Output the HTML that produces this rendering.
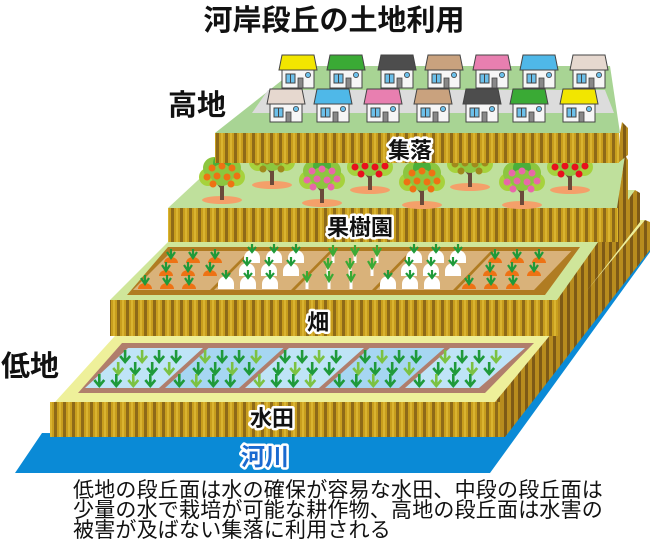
<!DOCTYPE html>
<html><head><meta charset="utf-8">
<style>
html,body{margin:0;padding:0;background:#fff;}
body{width:650px;height:545px;overflow:hidden;position:relative;font-family:"Liberation Sans","Noto Sans CJK JP",sans-serif;}
svg{position:absolute;left:0;top:0;}
.lab{font-family:"Liberation Sans","Noto Sans CJK JP",sans-serif;font-weight:bold;paint-order:stroke;stroke:#fff;stroke-width:5px;stroke-linejoin:round;fill:#111;}
.cap{position:absolute;left:73px;top:481px;font-size:21px;line-height:20px;color:#111;white-space:nowrap;letter-spacing:0.2px;font-family:"Liberation Sans","Noto Sans CJK JP",sans-serif;}
</style></head><body>
<svg width="650" height="545" viewBox="0 0 650 545" xmlns="http://www.w3.org/2000/svg">
<defs>
<pattern id="st" patternUnits="userSpaceOnUse" width="9" height="20">
<rect width="9" height="20" fill="#c89e1e"/>
<rect x="0" width="3" height="20" fill="#8e6a18"/>
<rect x="5" width="2" height="20" fill="#dab430"/>
</pattern>
<pattern id="sts" patternUnits="userSpaceOnUse" width="7" height="20">
<rect width="7" height="20" fill="#b88c1e"/>
<rect x="0" width="3" height="20" fill="#7e5a16"/>
</pattern>
<g id="rd"><path d="M-5,-6 L0,0 L5,-6 M0,0 L0,-12" stroke="#1f9a3a" stroke-width="2.6" fill="none"/></g>
<g id="rl"><path d="M-5,-6 L0,0 L5,-6 M0,0 L0,-12" stroke="#7cc242" stroke-width="2.6" fill="none"/></g>
<g id="ca"><path d="M-7,0 A7,6 0 0 1 7,0 Z" fill="#ee7214"/><path d="M-4,-11 L0,-5 L4,-11 M0,-5 L0,-14" stroke="#1f9a3a" stroke-width="2.2" fill="none"/></g>
<g id="tu"><path d="M-8,0 L-8,-5 A8,8 0 0 1 8,-5 L8,0 Z" fill="#fff"/><path d="M-4,-16 L0,-11 L4,-16 M0,-11 L0,-19" stroke="#1f9a3a" stroke-width="2.2" fill="none"/></g>
<g id="le"><path d="M0,0 L0,-8" stroke="#fff" stroke-width="3"/><path d="M-4,-15 L0,-8 L4,-15 M0,-8 L0,-18" stroke="#3aaa35" stroke-width="2.2" fill="none"/></g>
<g id="tree">
<ellipse cx="0" cy="25" rx="20" ry="4" fill="#f4a06a"/>
<path d="M0,25 L0,6 M0,12 L-7,4 M0,10 L7,3" stroke="#6b4a3a" stroke-width="4" fill="none"/>
<circle cx="-14" cy="2" r="9" fill="#a6d23c"/><circle cx="14" cy="2" r="9" fill="#a6d23c"/>
<circle cx="-8" cy="-7" r="11" fill="#8cc63f"/><circle cx="8" cy="-7" r="11" fill="#8cc63f"/>
<circle cx="0" cy="-12" r="9" fill="#4aae3a"/><circle cx="0" cy="0" r="11" fill="#8cc63f"/>
</g>
</defs>

<text x="334" y="30" text-anchor="middle" font-size="29" font-weight="bold" fill="#111" font-family="Liberation Sans, Noto Sans CJK JP, sans-serif">河岸段丘の土地利用</text>

<polygon points="15,473 490,473 650,252 650,235 500,437 42,433" fill="#0a8ad6"/>

<polygon points="55,402 495,402 645,220 220,220" fill="#eef09a"/>
<polygon points="495,402 645,220 650,222 650,250 505,437 495,437" fill="url(#sts)"/>
<rect x="50" y="402" width="450" height="35" fill="url(#st)"/>
<polygon points="78,393 485,393 534,343 122,343" fill="#b07e6c"/>
<g id="paddies"></g>

<polygon points="110,300 557,300 635,190 220,190" fill="#cfe69a"/>
<polygon points="557,300 635,190 640,193 640,222 552,336 550,336" fill="url(#sts)"/>
<rect x="110" y="300" width="448" height="36" fill="url(#st)"/>
<polygon points="127,295 545,295 580,247 168,247" fill="#b07c22"/>
<g id="fields"></g>

<polygon points="168,208 617,208 625,155 225,155" fill="#bfe09c"/>
<polygon points="617,208 625,155 628,160 628,215 617,242" fill="url(#sts)"/>
<rect x="168" y="208" width="450" height="34" fill="url(#st)"/>
<g id="trees"></g>

<polygon points="215,133 620,133 610,66 300,66" fill="#a8d494"/>
<polygon points="620,133 622,122 628,128 628,155 618,163" fill="url(#sts)"/>
<rect x="215" y="133" width="404" height="30" fill="url(#st)"/>
<polygon points="252,113 614,113 605,90 268,90" fill="#dcdcdc"/>
<g id="houses"></g>

<text class="lab" x="410" y="158" text-anchor="middle" font-size="22">集落</text>
<text class="lab" x="360" y="235" text-anchor="middle" font-size="22">果樹園</text>
<text class="lab" x="318" y="330" text-anchor="middle" font-size="22">畑</text>
<text class="lab" x="272" y="426" text-anchor="middle" font-size="22">水田</text>
<text class="lab" x="265" y="465" text-anchor="middle" font-size="24" style="fill:#1a6ad0">河川</text>
<text x="168" y="115" font-size="29" font-weight="bold" fill="#111" font-family="Liberation Sans, Noto Sans CJK JP, sans-serif">高地</text>
<text x="1" y="376" font-size="29" font-weight="bold" fill="#111" font-family="Liberation Sans, Noto Sans CJK JP, sans-serif">低地</text>
</svg>
<div class="cap">低地の段丘面は水の確保が容易な水田、中段の段丘面は<br>少量の水で栽培が可能な耕作物、高地の段丘面は水害の<br>被害が及ばない集落に利用される</div>
<script>
(function(){
var NS="http://www.w3.org/2000/svg";
function el(p,tag,a){var e=document.createElementNS(NS,tag);for(var k in a)e.setAttribute(k,a[k]);p.appendChild(e);return e;}
function use(p,id,x,y){var u=el(p,"use",{x:x,y:y});u.setAttributeNS("http://www.w3.org/1999/xlink","href","#"+id);u.setAttribute("href","#"+id);return u;}
var pg=document.getElementById("paddies");
for(var i=0;i<5;i++){
 var bx=85+i*80, tx=128+i*80.5;
 el(pg,"polygon",{points:bx+",388 "+(bx+74)+",388 "+(tx+75)+",348 "+tx+",348",fill:(i%2?"#a6d6f2":"#bfe4f7")});
 var rows=[360,372,384];
 for(var r=0;r<3;r++){
  var y=rows[r], sh=(388-y)*(43/40);
  for(var j=0;j<4;j++){
   var x=bx+sh+10+j*17+(r%2?6:0);
   if(x>bx+sh+70)continue;
   use(pg,((i+j+r)%3==1)?"rl":"rd",x,y+2);
  }
 }
}
var fg=document.getElementById("fields");
var kinds=["ca","tu","le","tu","ca"];
for(var i=0;i<5;i++){
 var bx=133+i*81, tx=172+i*80.6;
 el(fg,"polygon",{points:bx+",290 "+(bx+77)+",290 "+(tx+77)+",251 "+tx+",251",fill:"#d9b27a"});
 var rowsY=[264,277,290];
 for(var r=0;r<3;r++){
  var y=rowsY[r], sh=(290-y);
  for(var j=0;j<3;j++){
   var x=bx+sh+12+j*22+(r==1?8:0);
   if(x>bx+sh+72)continue;
   use(fg,kinds[i],x,y-1);
  }
 }
}
var tg=document.getElementById("trees");
var trees=[[272,160,"#a08a1c"],[370,165,"#e8101e"],[470,162,"#a08a1c"],[570,165,"#e8101e"],[222,175,"#ee7214"],[322,178,"#e868a8"],[422,180,"#ee7214"],[522,180,"#e868a8"]];
trees.forEach(function(t){
 use(tg,"tree",t[0],t[1]);
 var pts=[[-10,-7],[0,-9],[10,-7],[-15,2],[-5,1],[5,2],[15,1],[-9,9],[9,9]];
 pts.forEach(function(p){el(tg,"circle",{cx:t[0]+p[0],cy:t[1]+p[1],r:3.5,fill:t[2]});});
});
var hg=document.getElementById("houses");
function house(x,y,col){
 el(hg,"polygon",{points:(x+2)+","+(y+15)+" "+(x+40)+","+(y+15)+" "+(x+37)+","+y+" "+(x+5)+","+y,fill:col,stroke:"#444","stroke-width":1});
 el(hg,"rect",{x:x+5,y:y+15,width:32,height:18,fill:"#f6f6f6",stroke:"#444","stroke-width":1});
 el(hg,"rect",{x:x+9,y:y+19,width:9,height:9,fill:"#6cc0ea",stroke:"#444","stroke-width":1});
 el(hg,"line",{x1:x+13.5,y1:y+19,x2:x+13.5,y2:y+28,stroke:"#444","stroke-width":1});
 el(hg,"rect",{x:x+21,y:y+23,width:5,height:10,fill:"#888",stroke:"#444","stroke-width":0.8});
 el(hg,"circle",{cx:x+31,cy:y+20,r:2.6,fill:"#6cc0ea",stroke:"#444","stroke-width":0.8});
}
var back=["#f2e600","#3aaa35","#4d4d4d","#c9a27e","#e87fb0","#4fb8e8","#e6d8cf"];
var front=["#e6d8cf","#4fb8e8","#e87fb0","#c9a27e","#4d4d4d","#3aaa35","#f2e600"];
var bx=[277,325,376,423,471,518,568], fx=[265,312,362,412,461,508,558];
for(var i=0;i<7;i++)house(bx[i],55,back[i]);
for(var i=0;i<7;i++)house(fx[i],89,front[i]);
})();
</script>
</body></html>
